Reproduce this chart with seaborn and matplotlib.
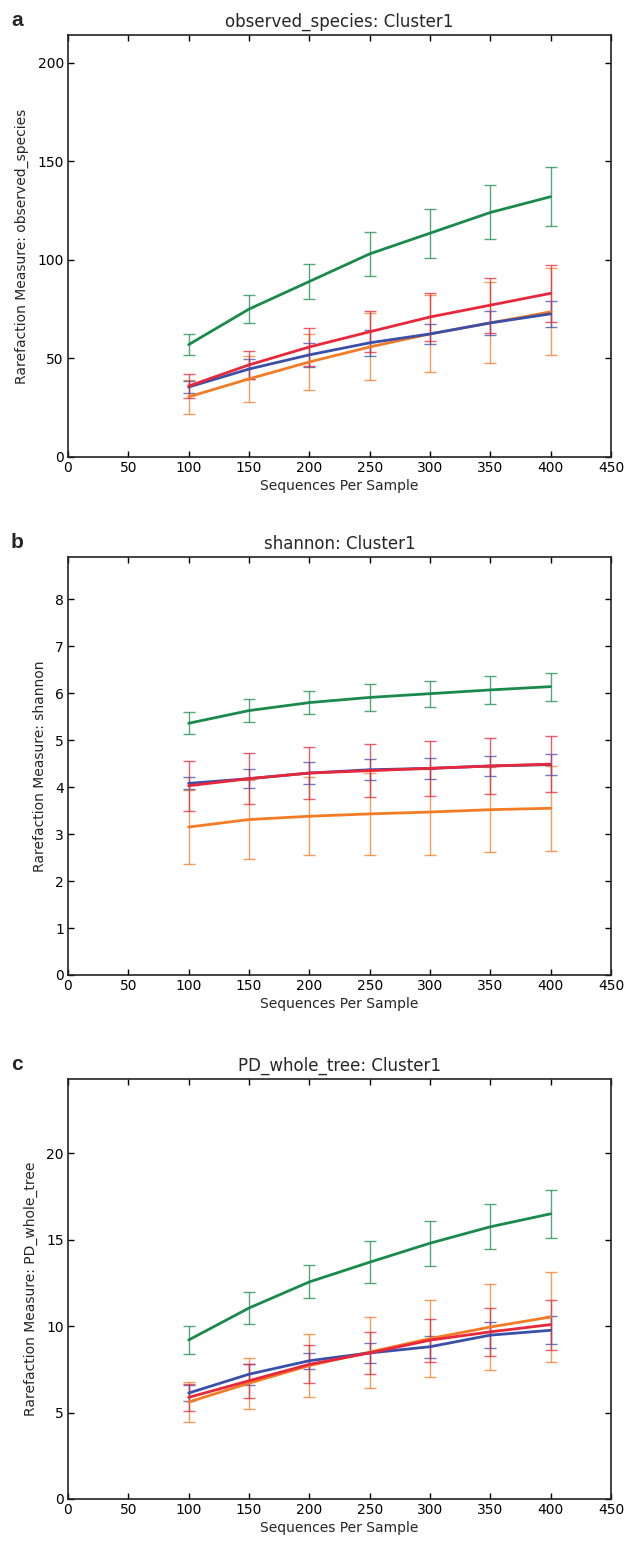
import matplotlib
matplotlib.use("Agg")
import numpy as np
import pandas as pd
import matplotlib.pyplot as plt
import seaborn as sns

# x positions (sequences per sample)
depths = [100, 150, 200, 250, 300, 350, 400]
groups = ["green", "red", "blue", "orange"]

# observed_species
obs_green = [57, 75, 89, 103, 113.5, 124, 132]
obs_green_err = [5.3, 7, 9, 11, 12.5, 13.7, 15]
obs_red = [36, 46.7, 55.8, 63.5, 71, 77, 83]
obs_red_err = [6, 7, 9.5, 10.5, 12, 14, 14.5]
obs_blue = [35.5, 44.6, 51.8, 57.9, 62.4, 68, 72.6]
obs_blue_err = [3, 5, 6, 6.5, 5, 6, 6.5]
obs_orange = [30.5, 39.6, 48.2, 55.8, 62.4, 68, 73.6]
obs_orange_err = [8.7, 11.6, 14, 17, 19.5, 20.5, 22]

# shannon
sha_green = [5.36, 5.63, 5.80, 5.91, 5.99, 6.07, 6.14]
sha_green_err = [0.23, 0.24, 0.25, 0.29, 0.28, 0.30, 0.30]
sha_red = [4.03, 4.18, 4.30, 4.35, 4.40, 4.45, 4.49]
sha_red_err = [0.53, 0.54, 0.55, 0.57, 0.58, 0.60, 0.60]
sha_blue = [4.08, 4.18, 4.30, 4.37, 4.40, 4.45, 4.48]
sha_blue_err = [0.13, 0.20, 0.23, 0.22, 0.23, 0.22, 0.22]
sha_orange = [3.15, 3.31, 3.38, 3.43, 3.47, 3.52, 3.55]
sha_orange_err = [0.79, 0.84, 0.83, 0.87, 0.91, 0.90, 0.91]

# PD_whole_tree
pd_green = [9.2, 11.05, 12.56, 13.7, 14.8, 15.75, 16.5]
pd_green_err = [0.8, 0.9, 0.95, 1.2, 1.3, 1.3, 1.4]
pd_red = [5.88, 6.84, 7.79, 8.45, 9.19, 9.67, 10.09]
pd_red_err = [0.76, 0.97, 1.1, 1.2, 1.25, 1.4, 1.45]
pd_blue = [6.13, 7.22, 8.0, 8.45, 8.81, 9.48, 9.76]
pd_blue_err = [0.45, 0.6, 0.45, 0.58, 0.63, 0.77, 0.8]
pd_orange = [5.61, 6.7, 7.72, 8.5, 9.28, 9.95, 10.53]
pd_orange_err = [1.14, 1.47, 1.8, 2.05, 2.25, 2.5, 2.6]

colors = {"green": "#1a8a4c", "red": "#e8283a", "blue": "#3a4fa8", "orange": "#f47b25"}

panels = [
    ("a", "observed_species", 214, [0, 50, 100, 150, 200],
     {"green": (obs_green, obs_green_err), "red": (obs_red, obs_red_err),
      "blue": (obs_blue, obs_blue_err), "orange": (obs_orange, obs_orange_err)}),
    ("b", "shannon", 8.9, [0, 1, 2, 3, 4, 5, 6, 7, 8],
     {"green": (sha_green, sha_green_err), "red": (sha_red, sha_red_err),
      "blue": (sha_blue, sha_blue_err), "orange": (sha_orange, sha_orange_err)}),
    ("c", "PD_whole_tree", 24.3, [0, 5, 10, 15, 20],
     {"green": (pd_green, pd_green_err), "red": (pd_red, pd_red_err),
      "blue": (pd_blue, pd_blue_err), "orange": (pd_orange, pd_orange_err)}),
]

sns.set_style("ticks")
plt.rcParams["font.family"] = ["DejaVu Sans"]

W, H = 628, 1546
fig = plt.figure(figsize=(W / 100, H / 100), dpi=100)

# axes boxes in pixels: left, top, right, bottom
boxes = [(68, 35, 611, 457), (68, 557, 611, 975), (68, 1079, 611, 1499)]

for (letter, metric, ytop, yticks, series), (l, t, r, b) in zip(panels, boxes):
    ax = fig.add_axes([l / W, 1 - b / H, (r - l) / W, (b - t) / H])
    rows = []
    for g in groups:
        vals, errs = series[g]
        for d, v, e in zip(depths, vals, errs):
            rows.append({"depth": d, "value": v, "err": e, "group": g})
    df = pd.DataFrame(rows)
    # error bars first, lines on top
    for g in ["orange", "blue", "red", "green"]:
        sub = df[df["group"] == g]
        ax.errorbar(sub["depth"], sub["value"], yerr=sub["err"], fmt="none",
                    ecolor=colors[g], elinewidth=1.0, capsize=4, capthick=1.0,
                    alpha=0.75, zorder=2)
    sns.lineplot(data=df, x="depth", y="value", hue="group",
                 hue_order=["orange", "blue", "red", "green"], palette=colors,
                 linewidth=2, legend=False, ax=ax, zorder=3)
    ax.set_xlim(0, 450)
    ax.set_ylim(0, ytop)
    ax.set_xticks(range(0, 451, 50))
    ax.set_yticks(yticks)
    ax.tick_params(direction="in", top=True, right=True, length=4, width=1,
                   labelsize=10, colors="black", pad=3)
    for s in ax.spines.values():
        s.set_linewidth(1.2)
        s.set_color("#222222")
    ax.set_xlabel("Sequences Per Sample", fontsize=10, labelpad=3)
    ax.set_ylabel("Rarefaction Measure: " + metric, fontsize=10, labelpad=6)
    ax.set_title(metric + ": Cluster1", fontsize=12, pad=6)
    fig.text(11 / W, 1 - (t - 15) / H, letter, fontsize=15, fontweight="bold",
             family="Liberation Sans", ha="left", va="center")

fig.savefig("out.png", dpi=100)
